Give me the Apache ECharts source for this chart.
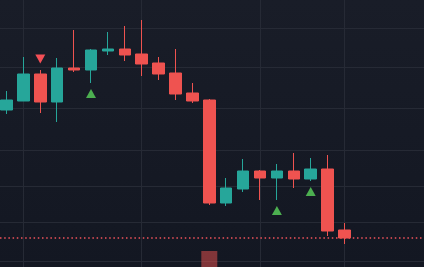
<!DOCTYPE html>
<html>
<head>
<meta charset="utf-8">
<script src="https://cdn.jsdelivr.net/npm/echarts@6/dist/echarts.min.js"></script>
<style>
html,body{margin:0;padding:0;background:#161a25;}
#chart{width:424px;height:267px;}
</style>
</head>
<body>
<div id="chart"></div>
<script>
// Category slots (last few are empty space on the right)
const categories = ['1','2','3','4','5','6','7','8','9','10','11','12','13','14','15','16','17','18','19','20','21','22','23','24','25'];
// Candles: [open, close, low, high]
const candles = [
  [157, 167, 153, 176],
  [166, 193, 166, 210],
  [193, 165, 154, 197],
  [165, 199, 145, 209],
  [199, 197, 195, 237],
  [197, 217, 184, 218],
  [216, 218, 212, 235],
  [218, 212, 206, 241],
  [213, 203, 191, 247],
  [204, 193, 187, 210],
  [194, 173, 167, 218],
  [174, 166, 164, 184],
  [167, 64, 62, 168],
  [64, 79, 61, 89],
  [78, 96, 75, 108],
  [96, 89, 67, 97],
  [89, 96, 67, 103],
  [96, 88, 79, 114],
  [88, 98, 86, 109],
  [98, 36, 31, 112],
  [37, 29, 23, 44]
];
// Volume (only the tallest bar reaches into view)
const volume = [null,null,null,null,null,null,null,null,null,null,null,null,16,null,null,null,null,null,null,null,null];
// Signals: [category, price]
const sellSignals = [['3', 208]];
const buySignals = [['6', 173.5], ['17', 56.5], ['19', 75.5]];
// Grid line positions
const priceGridLines = [238.5, 199.5, 158.5, 116.5, 80.5, 44.5, 5.5];
const timeGridLines = ['2', '9', '16', '21'];
const lastClose = candles[candles.length - 1][1];

const UP = '#26a69a', DOWN = '#ef5350', GRIDC = '#262a35';

function fullWidthLine(v) {
  return [{x: 0, yAxis: v}, {x: 424, yAxis: v}];
}

const chart = echarts.init(document.getElementById('chart'), null, {renderer: 'canvas'});
chart.setOption({
  animation: false,
  backgroundColor: {
    type: 'linear', x: 0, y: 0, x2: 0, y2: 1,
    colorStops: [{offset: 0, color: '#191d28'}, {offset: 1, color: '#131722'}]
  },
  grid: {left: 6.5, right: 11.9, top: 0, bottom: 0, containLabel: false},
  xAxis: {
    type: 'category', data: categories, boundaryGap: false,
    axisLine: {show: false}, axisTick: {show: false}, axisLabel: {show: false},
    splitLine: {show: false}
  },
  yAxis: [
    {type: 'value', min: 0, max: 267, axisLine: {show: false}, axisTick: {show: false},
     axisLabel: {show: false}, splitLine: {show: false}},
    {type: 'value', min: 0, max: 267, axisLine: {show: false}, axisTick: {show: false},
     axisLabel: {show: false}, splitLine: {show: false}}
  ],
  series: [
    {
      type: 'line', data: [], silent: true, z: 0, clip: false,
      markLine: {
        silent: true, z: 0, symbol: ['none', 'none'], label: {show: false},
        lineStyle: {color: GRIDC, type: 'solid', width: 1},
        emphasis: {disabled: true},
        data: priceGridLines.map(fullWidthLine).concat(timeGridLines.map(c => ({xAxis: c})))
      }
    },
    {
      type: 'bar', yAxisIndex: 1, data: volume, barWidth: 16, z: 1, silent: true, clip: false,
      itemStyle: {color: 'rgba(239,83,80,0.5)'}
    },
    {
      type: 'candlestick', data: candles, barWidth: 12, z: 3, clip: false,
      itemStyle: {color: UP, color0: DOWN, borderColor: UP, borderColor0: DOWN, borderWidth: 1},
      markLine: {
        silent: true, z: 2, symbol: ['none', 'none'], label: {show: false},
        lineStyle: {color: '#f0535c', type: [1.5, 2.7], width: 1.5},
        emphasis: {disabled: true},
        data: [fullWidthLine(lastClose)]
      }
    },
    {
      type: 'scatter', data: sellSignals, symbol: 'triangle', symbolRotate: 180,
      symbolSize: [10, 9], z: 4, itemStyle: {color: '#f44f56', opacity: 1}
    },
    {
      type: 'scatter', data: buySignals, symbol: 'triangle',
      symbolSize: [10, 9], z: 4, itemStyle: {color: '#4caf50', opacity: 1}
    }
  ]
});
</script>
</body>
</html>
